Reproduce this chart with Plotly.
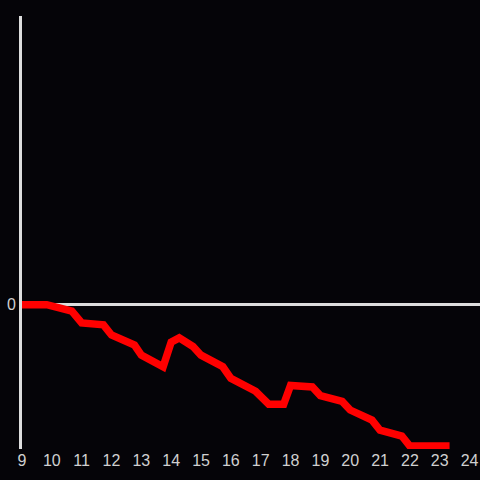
import plotly.graph_objects as go

hours = [9.0, 9.83, 10.67, 11.0, 11.73, 12.0, 12.77, 13.0, 13.73, 14.0, 14.27, 14.73,
         15.0, 15.73, 16.0, 16.83, 17.07, 17.27, 17.77, 18.0, 18.73, 19.0, 19.73, 20.0,
         20.73, 21.0, 21.73, 22.0, 23.33]
values = [0, 0, -0.044, -0.127, -0.14, -0.21, -0.28, -0.35, -0.43, -0.26, -0.23, -0.29,
          -0.35, -0.43, -0.51, -0.60, -0.65, -0.69, -0.69, -0.56, -0.57, -0.63, -0.67, -0.73,
          -0.80, -0.87, -0.91, -0.98, -0.98]
x_ticks = list(range(9, 25))
y_ticks = [0]

bg = "#050408"
fig = go.Figure()
fig.add_trace(go.Scatter(x=hours, y=values, mode="lines",
                         line=dict(color="#ff0000", width=7.5), hoverinfo="skip"))
fig.update_layout(
    width=480, height=480,
    paper_bgcolor=bg, plot_bgcolor=bg,
    margin=dict(l=22, r=0, t=16, b=31),
    showlegend=False,
    font=dict(family="Liberation Sans, Arial, sans-serif", size=16, color="#d0d0d0"),
    xaxis=dict(range=[9, 24.35], tickvals=x_ticks, ticktext=[str(t) for t in x_ticks],
               showgrid=False, zeroline=False, showline=False, ticks="",
               ticklabelstandoff=0,
               tickfont=dict(size=16, color="#d0d0d0")),
    yaxis=dict(range=[-1, 2], tickvals=y_ticks, ticktext=["0"], showgrid=False,
               zeroline=True, zerolinecolor="#dddddd", zerolinewidth=3,
               showline=True, linecolor="#dddddd", linewidth=3, ticks="",
               ticklabelstandoff=0,
               tickfont=dict(size=16, color="#d0d0d0")),
)
fig.write_html("out.html", config={"displayModeBar": False},
               post_script="document.body.style.margin='0';document.body.style.background='%s';" % bg)
